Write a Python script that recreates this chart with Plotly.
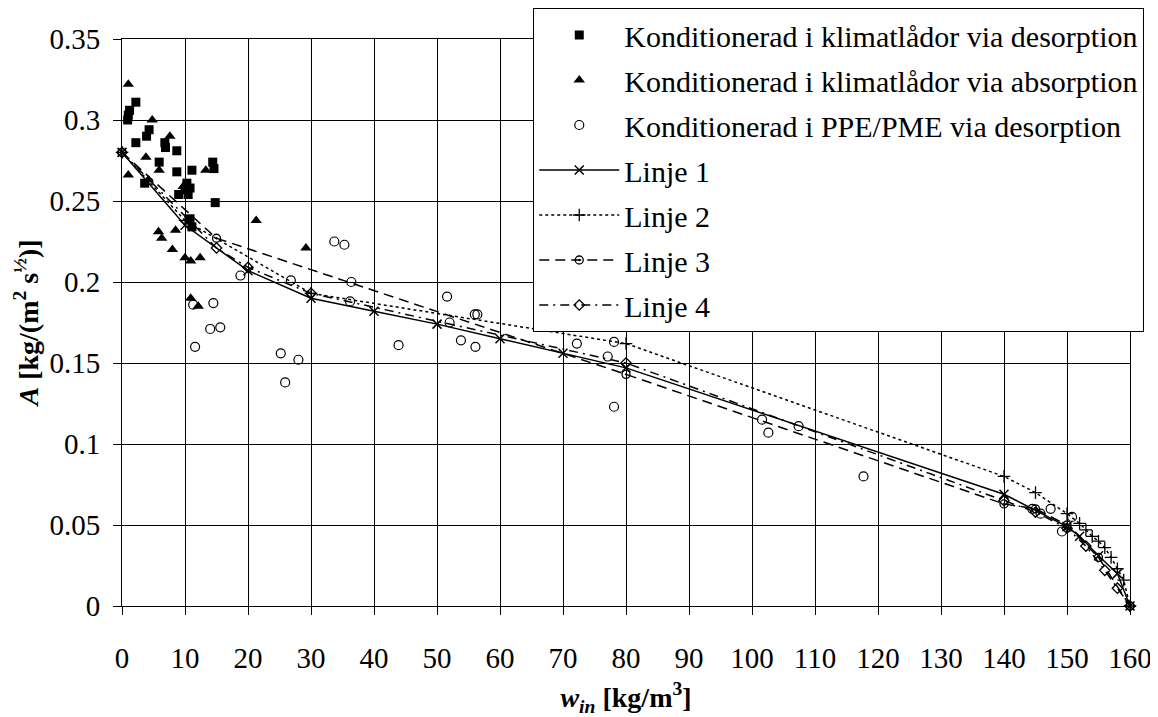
import plotly.graph_objects as go

# ---- data ----
sq_x = [0.9, 1.0, 1.2, 2.2, 2.2, 3.6, 3.9, 4.3, 5.9, 6.8, 6.9, 8.7, 8.7, 9.0, 10.0, 10.3, 10.5, 10.8, 11.1, 14.4, 14.6, 14.8, 10.8, 11.1]
sq_y = [0.300, 0.303, 0.306, 0.311, 0.286, 0.261, 0.290, 0.294, 0.274, 0.286, 0.283, 0.281, 0.268, 0.254, 0.257, 0.261, 0.254, 0.258, 0.269, 0.274, 0.270, 0.249, 0.239, 0.234]

tri_x = [1.0, 4.8, 7.6, 3.8, 5.9, 1.0, 13.3, 4.2, 9.7, 5.8, 6.3, 8.5, 8.0, 10.0, 10.9, 12.4, 21.3, 29.2, 10.9, 12.1]
tri_y = [0.322, 0.300, 0.290, 0.277, 0.269, 0.266, 0.269, 0.263, 0.259, 0.231, 0.227, 0.232, 0.220, 0.215, 0.213, 0.215, 0.238, 0.221, 0.190, 0.185]

circ_x = [11.3, 14.5, 14.0, 15.6, 11.6, 18.8, 25.2, 28.0, 25.9, 26.8, 33.7, 35.3, 36.4, 36.2, 43.9,
          51.6, 52.0, 53.8, 56.0, 56.4, 56.1, 72.2, 77.1, 78.1, 78.1, 101.6, 102.6, 107.4, 117.7,
          144.5, 145.8, 147.4, 149.2, 150.8]
circ_y = [0.186, 0.187, 0.171, 0.172, 0.160, 0.204, 0.156, 0.152, 0.138, 0.201, 0.225, 0.223, 0.200, 0.188, 0.161,
          0.191, 0.175, 0.164, 0.180, 0.180, 0.160, 0.162, 0.154, 0.163, 0.123, 0.115, 0.107, 0.111, 0.080,
          0.060, 0.057, 0.060, 0.046, 0.055]

l1_x = [0, 10, 20, 30, 40, 50, 60, 70, 80, 140, 150, 152, 155, 158, 160]
l1_y = [0.280, 0.235, 0.207, 0.190, 0.182, 0.174, 0.165, 0.156, 0.147, 0.069, 0.049, 0.043, 0.031, 0.020, 0.000]

l2_x = [0, 10, 30, 80, 140, 145, 150, 152, 153, 154, 155, 156, 157, 158, 159, 160]
l2_y = [0.280, 0.238, 0.193, 0.162, 0.080, 0.070, 0.057, 0.051, 0.047, 0.043, 0.040, 0.036, 0.030, 0.023, 0.016, 0.000]

l3_x = [0, 15, 80, 140, 145, 150, 155, 160]
l3_y = [0.280, 0.227, 0.143, 0.063, 0.060, 0.050, 0.030, 0.000]

l4_x = [0, 15, 20, 30, 80, 140, 145, 150, 153, 156, 158, 160]
l4_y = [0.280, 0.221, 0.209, 0.193, 0.150, 0.065, 0.058, 0.048, 0.037, 0.022, 0.011, 0.000]

x_ticks = list(range(0, 161, 10))
y_ticks = [0, 0.05, 0.1, 0.15, 0.2, 0.25, 0.3, 0.35]
y_tick_text = ["0", "0.05", "0.1", "0.15", "0.2", "0.25", "0.3", "0.35"]

FONT = "Liberation Serif, Times New Roman, Times, DejaVu Serif, serif"
fig = go.Figure()

fig.add_trace(go.Scatter(x=sq_x, y=sq_y, mode="markers", name="Konditionerad i klimatlådor via desorption",
                         legendgroup="a", marker=dict(symbol="square", size=9, color="black"), cliponaxis=False))
fig.add_trace(go.Scatter(x=tri_x, y=tri_y, mode="markers", name="Konditionerad i klimatlådor via absorption",
                         legendgroup="b", marker=dict(symbol="triangle-up", size=10, color="black"), cliponaxis=False))
fig.add_trace(go.Scatter(x=circ_x, y=circ_y, mode="markers", name="Konditionerad i PPE/PME via desorption",
                         legendgroup="c", marker=dict(symbol="circle-open", size=9, color="black", line=dict(width=1.2)),
                         cliponaxis=False))
fig.add_trace(go.Scatter(x=l1_x, y=l1_y, mode="lines+markers", name="Linje 1", legendgroup="d",
                         line=dict(color="black", width=1.5, dash="solid"),
                         marker=dict(symbol="x-thin", size=9, color="black", line=dict(width=1.5, color="black")),
                         cliponaxis=False))
fig.add_trace(go.Scatter(x=l2_x, y=l2_y, mode="lines+markers", name="Linje 2", legendgroup="e",
                         line=dict(color="black", width=1.5, dash="dot"),
                         marker=dict(symbol="cross-thin", size=9, color="black", line=dict(width=1.3, color="black")),
                         cliponaxis=False))
fig.add_trace(go.Scatter(x=l3_x, y=l3_y, mode="lines+markers", name="Linje 3", legendgroup="f",
                         line=dict(color="black", width=1.5, dash="10px,6px"),
                         marker=dict(symbol="circle-open-dot", size=8, color="black", line=dict(width=1.3, color="black")),
                         cliponaxis=False))
fig.add_trace(go.Scatter(x=l4_x, y=l4_y, mode="lines+markers", name="Linje 4", legendgroup="g",
                         line=dict(color="black", width=1.5, dash="9px,5px,2px,5px"),
                         marker=dict(symbol="diamond-open", size=8, color="black", line=dict(width=1.3, color="black")),
                         cliponaxis=False))

fig.update_layout(
    width=1150, height=709,
    margin=dict(l=114, r=28, t=31, b=111, autoexpand=False),
    paper_bgcolor="white", plot_bgcolor="white",
    font=dict(family=FONT, size=29, color="black"),
    showlegend=True,
    legend=dict(x=0.408, xref="paper", y=1.0, yref="container", xanchor="left", yanchor="top",
                bgcolor="white", bordercolor="black", borderwidth=1,
                font=dict(family=FONT, size=30, color="black"),
                tracegroupgap=3, traceorder="grouped", itemwidth=80),
    xaxis=dict(range=[0, 160], tickvals=x_ticks, ticktext=[str(v) for v in x_ticks],
               showgrid=True, gridcolor="black", gridwidth=1,
               showline=True, linecolor="black", linewidth=1, mirror=True,
               ticks="outside", ticklen=8, tickcolor="black", zeroline=False,
               ticklabelstandoff=18,
               tickfont=dict(family=FONT, size=29),
               title=dict(text="<b><i>w<sub>in</sub></i> [kg/m<sup>3</sup>]</b>", font=dict(family=FONT, size=28), standoff=14)),
    yaxis=dict(range=[0, 0.35], tickvals=y_ticks, ticktext=y_tick_text,
               showgrid=True, gridcolor="black", gridwidth=1,
               showline=True, linecolor="black", linewidth=1, mirror=True,
               ticks="outside", ticklen=8, tickcolor="black", zeroline=False,
               ticklabelstandoff=7,
               tickfont=dict(family=FONT, size=29),
               title=dict(text="<b><i>A</i> [kg/(m<sup>2</sup> s<sup>½</sup>)]</b>", font=dict(family=FONT, size=28), standoff=2)),
)

fig.write_html("out.html")
